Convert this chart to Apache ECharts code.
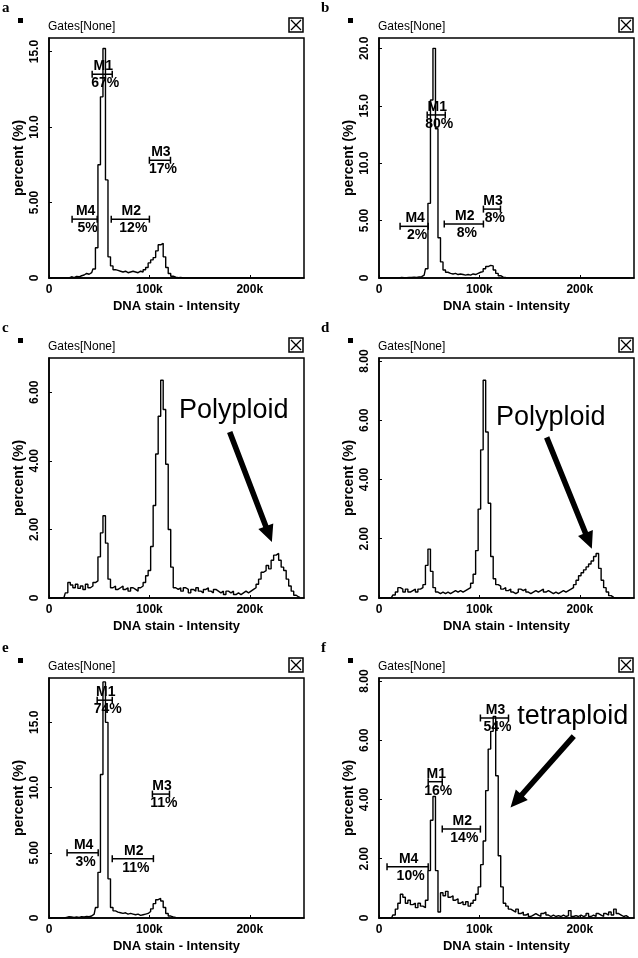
<!DOCTYPE html>
<html><head><meta charset="utf-8">
<script src="https://cdn.jsdelivr.net/npm/echarts@6.0.0/dist/echarts.min.js"></script>
<style>html,body{margin:0;padding:0;background:#fff}#c{width:638px;height:958px}</style>
</head><body><div id="c"></div>
<script>
// ---------- DATA ----------
const xBinsK = [0,2.5,5,7.5,10,12.5,15,17.5,20,22.5,25,27.5,30,32.5,35,37.5,40,42.5,45,47.5,
50,52.5,55,57.5,60,62.5,65,67.5,70,72.5,75,77.5,80,82.5,85,87.5,90,92.5,95,97.5,
100,102.5,105,107.5,110,112.5,115,117.5,120,122.5,125,127.5,130,132.5,135,137.5,140,142.5,145,147.5,
150,152.5,155,157.5,160,162.5,165,167.5,170,172.5,175,177.5,180,182.5,185,187.5,190,192.5,195,197.5,
200,202.5,205,207.5,210,212.5,215,217.5,220,222.5,225,227.5,230,232.5,235,237.5,240,242.5,245,247.5,250];

const yA = [0,0,0,0,0,0,0,0,0,0.08,
0.03,0.1,0.08,0.15,0.2,0.3,0.25,0.35,0.6,2.0,
7.5,12.0,15.2,6.5,1.4,0.8,0.55,0.5,0.45,0.4,
0.45,0.35,0.4,0.45,0.4,0.35,0.45,0.4,0.55,0.7,
1.0,1.2,1.35,1.8,2.2,2.3,1.4,0.7,0.3,0.12,
0.05,0.02,0.04,0,0,0,0,0,0,0,
0,0,0,0,0,0,0,0,0,0,
0,0,0,0,0,0,0,0,0,0,
0,0,0,0,0,0,0,0,0,0,
0,0,0,0,0,0,0,0,0,0,
0];
const yB = [0,0,0,0,0,0,0,0,0,0.05,
0.02,0.03,0.05,0.04,0.08,0.05,0.1,0.12,0.25,0.8,
6.5,15.5,20.0,13.0,3.5,1.4,0.7,0.5,0.4,0.35,
0.4,0.3,0.35,0.3,0.25,0.3,0.25,0.35,0.3,0.4,
0.5,0.55,0.8,1.0,1.1,1.05,0.7,0.4,0.2,0.08,
0.04,0.02,0,0,0,0,0,0,0,0,
0,0,0,0,0,0,0,0,0,0,
0,0,0,0,0,0,0,0,0,0,
0,0,0,0,0,0,0,0,0,0,
0,0,0,0,0,0,0,0,0,0,
0];
const yC = [0,0,0,0,0,0,0.02,0.15,0.45,0.38,
0.3,0.4,0.28,0.35,0.25,0.4,0.3,0.35,0.45,0.5,
1.2,1.9,2.4,1.6,0.55,0.3,0.35,0.25,0.3,0.35,
0.25,0.3,0.2,0.3,0.25,0.2,0.3,0.35,0.45,0.65,
0.8,1.5,2.7,4.2,5.3,6.35,5.5,3.9,2.0,0.9,
0.3,0.25,0.3,0.2,0.3,0.25,0.15,0.25,0.2,0.3,
0.2,0.15,0.25,0.3,0.2,0.15,0.25,0.2,0.15,0.2,
0.1,0.2,0.15,0.2,0.1,0.15,0.1,0.15,0.2,0.15,
0.2,0.25,0.3,0.4,0.55,0.75,0.8,0.95,0.85,1.1,
1.25,1.3,1.1,0.9,0.8,0.55,0.35,0.2,0.08,0.03,
0.02];
const yD = [0,0,0,0,0,0.02,0.1,0.2,0.35,0.3,
0.2,0.3,0.2,0.25,0.3,0.2,0.3,0.35,0.45,1.1,
1.65,0.9,0.35,0.2,0.15,0.2,0.15,0.2,0.15,0.2,
0.25,0.2,0.25,0.2,0.25,0.3,0.35,0.5,0.8,1.6,
3.0,5.0,7.35,5.6,3.2,1.4,0.65,0.45,0.4,0.3,
0.35,0.25,0.3,0.2,0.15,0.2,0.3,0.25,0.3,0.2,
0.15,0.2,0.25,0.2,0.25,0.3,0.2,0.25,0.2,0.15,
0.2,0.15,0.2,0.25,0.2,0.25,0.3,0.35,0.45,0.6,
0.75,0.85,0.95,1.05,1.15,1.25,1.4,1.5,1.0,0.6,
0.35,0.2,0.08,0.02,0,0,0,0,0,0,
0];
const yE = [0,0,0,0,0,0,0,0.05,0.1,0.08,
0.05,0.08,0.05,0.1,0.08,0.12,0.1,0.15,0.3,0.8,
3.5,11.0,18.1,15.0,3.0,0.8,0.55,0.45,0.4,0.35,
0.4,0.3,0.35,0.3,0.25,0.3,0.2,0.25,0.3,0.35,
0.5,0.7,1.1,1.4,1.5,1.3,0.8,0.35,0.15,0.08,
0.05,0.03,0.02,0,0,0,0,0,0,0,
0,0,0,0,0,0,0,0,0,0,
0,0,0,0,0,0,0,0,0,0,
0,0,0,0,0,0,0,0,0,0,
0,0,0,0,0,0,0,0,0,0,
0];
const yF = [0,0,0,0,0,0,0.1,0.3,0.5,0.8,
0.7,0.5,0.6,0.45,0.5,0.35,0.5,0.4,0.35,0.6,
1.6,3.3,4.1,1.6,0.2,0.85,0.75,0.9,0.7,0.75,
0.6,0.65,0.5,0.55,0.45,0.55,0.4,0.5,0.6,0.8,
1.05,1.8,2.6,4.3,5.7,6.3,6.8,4.8,2.1,1.05,
0.5,0.4,0.3,0.25,0.2,0.3,0.15,0.2,0.1,0.15,
0.05,0.1,0.15,0.1,0.05,0.15,0.2,0.1,0.05,0.1,
0.05,0.08,0.05,0.1,0.05,0.08,0.25,0.05,0.08,0.05,
0.1,0.05,0.08,0.15,0.05,0.1,0.05,0.15,0.1,0.05,
0.15,0.1,0.2,0.1,0.3,0.15,0.1,0.05,0.08,0.02,
0];

const panelLetters = ['a','b','c','d','e','f'];
const xTickLabels = ['0','100k','200k'];
const xMaxK = 254;
const yLabelsA = ['0','5.00','10.0','15.0'];
const yLabelsB = ['0','5.00','10.0','15.0','20.0'];
const yLabelsC = ['0','2.00','4.00','6.00'];
const yLabelsD = ['0','2.00','4.00','6.00','8.00'];
const yLabelsE = ['0','5.00','10.0','15.0'];
const yLabelsF = ['0','2.00','4.00','6.00','8.00'];

const gateNames = ['M1','M2','M3','M4'];
// [start k, end k, y]
const gatesA = [[43,63,13.5],[62,100,3.9],[100,121,7.8],[23,48,3.9]];
const pctA = ['67%','12%','17%','5%'];
const gatesB = [[48,66,14.2],[65,104,4.7],[104,121,6.0],[21,49,4.5]];
const pctB = ['80%','8%','8%','2%'];
const gatesE = [[48,63,16.7],[63,104,4.55],[103,120,9.5],[18,49,5.0]];
const pctE = ['74%','11%','11%','3%'];
const gatesF = [[49,63,4.6],[63,101,3.0],[101,129,6.75],[8,49,1.73]];
const pctF = ['16%','14%','54%','10%'];

// annotations: [fromXk, fromY, toXk, toY, textXk, textY]
const noteC = [180,4.84,222,1.63,184,5.48];
const noteD = [167,5.42,212,1.66,171,6.1];
const noteF = [194,6.14,131,3.73,193,6.8];
const noteTextC = 'Polyploid', noteTextD = 'Polyploid', noteTextF = 'tetraploid';

const xAxisName = 'DNA stain - Intensity';
const yAxisName = 'percent (%)';
const gateTitle = 'Gates[None]';

// ---------- BUILD ----------
const FONT = '"Liberation Sans", Arial, sans-serif';
const panels = [
  {y:yA, yMax:15.9, yInt:5, yLabels:yLabelsA, gates:gatesA, pct:pctA},
  {y:yB, yMax:20.9, yInt:5, yLabels:yLabelsB, gates:gatesB, pct:pctB},
  {y:yC, yMax:7.0, yInt:2, yLabels:yLabelsC, note:noteC, noteText:noteTextC},
  {y:yD, yMax:8.1, yInt:2, yLabels:yLabelsD, note:noteD, noteText:noteTextD},
  {y:yE, yMax:18.4, yInt:5, yLabels:yLabelsE, gates:gatesE, pct:pctE},
  {y:yF, yMax:8.1, yInt:2, yLabels:yLabelsF, gates:gatesF, pct:pctF, note:noteF, noteText:noteTextF}
];

const gridLefts = [49,379], gridTops = [38,358,678], GW = 255, GH = 240;
const letterX = [2,321];
const grids=[], xAxes=[], yAxes=[], series=[], graphics=[];

function gateRender(pct){
  return function(params, api){
    const y = api.value(2);
    const p1 = api.coord([api.value(0), y]), p2 = api.coord([api.value(1), y]);
    const cx = (p1[0]+p2[0])/2;
    const s = {stroke:'#000', lineWidth:1.5};
    const f = 'bold 14px ' + FONT;
    return {type:'group', children:[
      {type:'line', shape:{x1:p1[0],y1:p1[1],x2:p2[0],y2:p2[1]}, style:s},
      {type:'line', shape:{x1:p1[0],y1:p1[1]-3.5,x2:p1[0],y2:p1[1]+3.5}, style:s},
      {type:'line', shape:{x1:p2[0],y1:p2[1]-3.5,x2:p2[0],y2:p2[1]+3.5}, style:s},
      {type:'text', x:cx+1, y:p1[1]-1, style:{text:gateNames[params.dataIndex], font:f, fill:'#000', textAlign:'center', align:'center', textVerticalAlign:'bottom', verticalAlign:'bottom'}},
      {type:'text', x:cx+3, y:p1[1]+2, style:{text:pct[params.dataIndex], font:f, fill:'#000', textAlign:'center', align:'center', textVerticalAlign:'top', verticalAlign:'top'}}
    ]};
  };
}
function noteRender(label){
  return function(params, api){
    const a = api.coord([api.value(0), api.value(1)]);
    const b = api.coord([api.value(2), api.value(3)]);
    const t = api.coord([api.value(4), api.value(5)]);
    const dx=b[0]-a[0], dy=b[1]-a[1], L=Math.hypot(dx,dy), ux=dx/L, uy=dy/L, nx=-uy, ny=ux;
    const hl=17, hw=8, sw=2.8;
    const bx=b[0]-ux*hl, by=b[1]-uy*hl;
    const pts=[[a[0]+nx*sw,a[1]+ny*sw],[bx+nx*sw,by+ny*sw],[bx+nx*hw,by+ny*hw],[b[0],b[1]],
               [bx-nx*hw,by-ny*hw],[bx-nx*sw,by-ny*sw],[a[0]-nx*sw,a[1]-ny*sw]];
    return {type:'group', children:[
      {type:'polygon', shape:{points:pts}, style:{fill:'#000'}},
      {type:'text', x:t[0], y:t[1], style:{text:label, font:'27px '+FONT, fill:'#000', textAlign:'center', align:'center', textVerticalAlign:'middle', verticalAlign:'middle'}}
    ]};
  };
}

panels.forEach((p,i)=>{
  const col=i%2, row=Math.floor(i/2);
  const gl=gridLefts[col], gt=gridTops[row];
  grids.push({left:gl, top:gt, width:GW, height:GH, show:true, borderColor:'#000', borderWidth:1.5, backgroundColor:'transparent'});
  xAxes.push({type:'value', gridIndex:i, min:0, max:xMaxK*1000, interval:100000,
    axisLine:{show:true, onZero:false, lineStyle:{color:'#000', width:1.5}},
    axisTick:{show:true, inside:true, length:3, lineStyle:{color:'#000', width:1}},
    splitLine:{show:false},
    axisLabel:{color:'#000', fontFamily:FONT, fontWeight:'bold', fontSize:12, margin:6, showMaxLabel:false, hideOverlap:false,
      formatter:v=>{const k=v/100000; return Math.abs(k-Math.round(k))<1e-6 ? (xTickLabels[Math.round(k)] ?? '') : '';}},
    name:xAxisName, nameLocation:'middle', nameGap:22,
    nameTextStyle:{color:'#000', fontFamily:FONT, fontWeight:'bold', fontSize:13}});
  yAxes.push({type:'value', gridIndex:i, min:0, max:p.yMax, interval:p.yInt,
    axisLine:{show:true, onZero:false, lineStyle:{color:'#000', width:1.5}},
    axisTick:{show:true, inside:true, length:3, lineStyle:{color:'#000', width:1}},
    splitLine:{show:false},
    axisLabel:{color:'#000', fontFamily:FONT, fontWeight:'bold', fontSize:12, margin:8, rotate:90, showMaxLabel:false, hideOverlap:false,
      formatter:v=>{const k=v/p.yInt; return Math.abs(k-Math.round(k))<1e-6 ? (p.yLabels[Math.round(k)] ?? '') : '';}},
    name:yAxisName, nameLocation:'middle', nameGap:23,
    nameTextStyle:{color:'#000', fontFamily:FONT, fontWeight:'bold', fontSize:14}});
  series.push({type:'line', xAxisIndex:i, yAxisIndex:i, step:'middle', showSymbol:false, symbol:'none', silent:true,
    lineStyle:{color:'#000', width:1.4}, data:xBinsK.map((x,j)=>[x*1000, p.y[j]]), z:2});
  if(p.gates){
    series.push({type:'custom', xAxisIndex:i, yAxisIndex:i, silent:true, clip:false, z:4,
      encode:{x:[0,1], y:2}, data:p.gates.map(g=>[g[0]*1000,g[1]*1000,g[2]]), renderItem:gateRender(p.pct)});
  }
  if(p.note){
    const n=p.note;
    series.push({type:'custom', xAxisIndex:i, yAxisIndex:i, silent:true, clip:false, z:5,
      encode:{x:[0,2,4], y:[1,3,5]}, data:[[n[0]*1000,n[1],n[2]*1000,n[3],n[4]*1000,n[5]]], renderItem:noteRender(p.noteText)});
  }
  // decorations
  graphics.push({type:'text', x:letterX[col], y:gt-37, style:{text:panelLetters[i], font:'bold 15px "Liberation Serif", serif', fill:'#000', textVerticalAlign:'top', verticalAlign:'top'}});
  graphics.push({type:'rect', shape:{x:gl-31, y:gt-20, width:5, height:5}, style:{fill:'#000'}});
  graphics.push({type:'text', x:gl-1, y:gt-11, style:{text:gateTitle, font:'12px '+FONT, fill:'#000', textVerticalAlign:'middle', verticalAlign:'middle'}});
  const bx=gl+GW-15, by=gt-20;
  graphics.push({type:'rect', shape:{x:bx, y:by, width:14, height:14}, style:{fill:'#fff', stroke:'#000', lineWidth:1.5}});
  graphics.push({type:'line', shape:{x1:bx+2, y1:by+2, x2:bx+12, y2:by+12}, style:{stroke:'#000', lineWidth:1.3}});
  graphics.push({type:'line', shape:{x1:bx+12, y1:by+2, x2:bx+2, y2:by+12}, style:{stroke:'#000', lineWidth:1.3}});
});

const chart = echarts.init(document.getElementById('c'), null, {renderer:'canvas'});
chart.setOption({
  animation:false, backgroundColor:'#fff',
  grid:grids, xAxis:xAxes, yAxis:yAxes, series:series, graphic:graphics
});
</script></body></html>
